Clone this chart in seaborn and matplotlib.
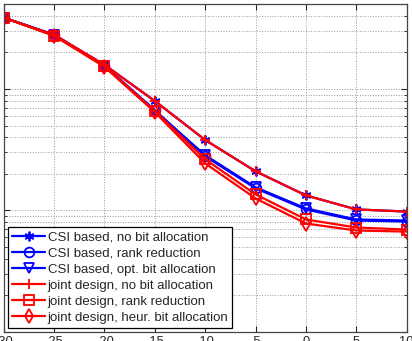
import numpy as np
import pandas as pd
import matplotlib
matplotlib.use("Agg")
import matplotlib.pyplot as plt
import seaborn as sns

sns.set_style("ticks")
plt.rcParams['font.family'] = ['Liberation Sans', 'DejaVu Sans']
plt.rcParams['axes.unicode_minus'] = False

# SNR axis (dB) and BER curves
snr = [-30, -25, -20, -15, -10, -5, 0, 5, 10]
csi_no_bit = [0.386, 0.279, 0.158, 0.0796, 0.0380, 0.0210, 0.0133, 0.0102, 0.0098]
csi_rank = [0.386, 0.279, 0.155, 0.0670, 0.0279, 0.0152, 0.0102, 0.00827, 0.00811]
csi_opt = [0.386, 0.279, 0.155, 0.0658, 0.0285, 0.0155, 0.0104, 0.00843, 0.00827]
joint_no_bit = [0.386, 0.279, 0.158, 0.0796, 0.0380, 0.0210, 0.0133, 0.0102, 0.0098]
joint_rank = [0.386, 0.274, 0.155, 0.0658, 0.0264, 0.01356, 0.00843, 0.00724, 0.00697]
joint_heur = [0.386, 0.274, 0.152, 0.0645, 0.0244, 0.01256, 0.00781, 0.00684, 0.00670]

labels = ["CSI based, no bit allocation", "CSI based, rank reduction",
          "CSI based, opt. bit allocation", "joint design, no bit allocation",
          "joint design, rank reduction", "joint design, heur. bit allocation"]
series = [csi_no_bit, csi_rank, csi_opt, joint_no_bit, joint_rank, joint_heur]
# (6, 2, 0) is a six-armed asterisk like matlab's '*'
markers = [(6, 2, 0), "o", "v", "+", "s", "d"]
colors = ["#0000ff"] * 3 + ["#ff0000"] * 3

fig = plt.figure(figsize=(4.12, 3.41), dpi=100)
ax = fig.add_axes([3.7 / 412, 1 - 332 / 341, 403 / 412, 328 / 341])

for lab, vals, m, c in zip(labels, series, markers, colors):
    df = pd.DataFrame({"snr": snr, "ber": vals})
    sns.lineplot(data=df, x="snr", y="ber", ax=ax, color=c, marker=m,
                 markersize=7, markerfacecolor="none", markeredgecolor=c,
                 markeredgewidth=1.3, linewidth=1.6, label=lab)

ax.set_yscale("log")
ax.set_xlim(-30, 10)
ax.set_ylim(1e-3, 0.5)
ax.set_xticks(snr)
ax.set_xlabel("")
ax.set_ylabel("")

# matlab-ish look: dotted grid, ticks inside on all sides
ax.grid(True, which="major", linestyle=":", color="#999999", linewidth=0.7)
ax.grid(True, which="minor", axis="y", linestyle=":", color="#999999", linewidth=0.7)
ax.tick_params(which="both", direction="in", top=True, right=True,
               labelsize=9.3, pad=3)
ax.tick_params(which="major", length=4)
ax.tick_params(which="minor", length=2)
for sp in ax.spines.values():
    sp.set_color("#444444")
    sp.set_linewidth(0.9)

leg = ax.legend(loc="lower left", bbox_to_anchor=(0.011, 0.012), borderaxespad=0,
                fontsize=9.5, fancybox=False, framealpha=1, edgecolor="black",
                handlelength=2.5, labelspacing=0.3, borderpad=0.3,
                handletextpad=0.2)
leg.get_frame().set_linewidth(0.9)

fig.savefig("out.png", dpi=100)
